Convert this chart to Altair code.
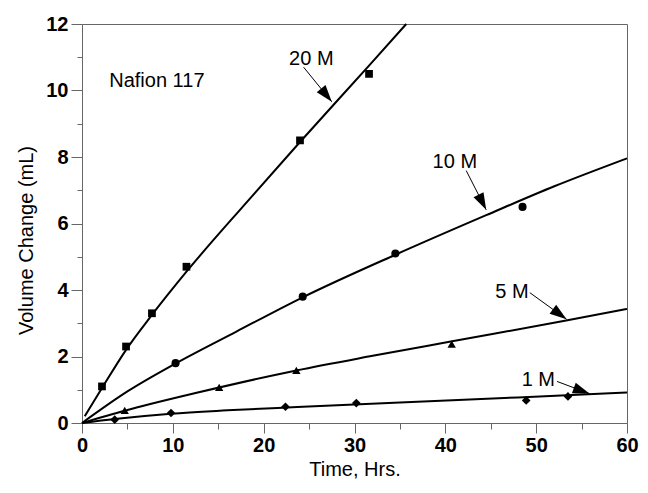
import altair as alt
import pandas as pd

FONT = "Liberation Sans"

# ---- series definitions ----
series = ["20 M", "10 M", "5 M", "1 M"]
shapes = ["square", "circle", "triangle-up", "diamond"]
sizes = [60, 75, 85, 90]

# ---- measured points (time in hours, volume change in mL) ----
t20 = [2.2, 4.85, 7.7, 11.5, 24.0, 31.6]
v20 = [1.1, 2.3, 3.3, 4.7, 8.5, 10.5]
t10 = [10.3, 24.3, 34.5, 48.5]
v10 = [1.8, 3.8, 5.1, 6.5]
t5 = [4.7, 15.1, 23.6, 40.7]
v5 = [0.38, 1.07, 1.58, 2.37]
t1 = [3.6, 9.8, 22.4, 30.2, 48.9, 53.5]
v1 = [0.1, 0.3, 0.49, 0.6, 0.68, 0.8]

# ---- fitted curves ----
ft20 = [0.3, 2.2, 4.85, 7.7, 11.5, 18.0, 24.0, 31.6, 35.7]
fv20 = [0.2, 1.05, 2.2, 3.25, 4.55, 6.6, 8.45, 10.75, 12.0]
ft10 = [0, 5, 10.3, 17, 24.3, 34.5, 44.5, 52, 60]
fv10 = [0, 0.95, 1.79, 2.75, 3.78, 5.06, 6.25, 7.12, 7.96]
ft5 = [0, 4.7, 12.5, 23.6, 32, 40.6, 53.3, 60]
fv5 = [0, 0.37, 0.9, 1.58, 2.02, 2.45, 3.08, 3.43]
ft1 = [0, 3.6, 9.8, 16, 23.7, 35, 48, 60]
fv1 = [0, 0.12, 0.28, 0.38, 0.48, 0.62, 0.77, 0.92]

# ---- tick values ----
x_major = [0, 10, 20, 30, 40, 50, 60]
x_minor = [5, 15, 25, 35, 45, 55]
y_major = [0, 2, 4, 6, 8, 10, 12]
y_minor = [1, 3, 5, 7, 9, 11]

# ---- annotations (data coordinates) ----
ann_text = ["20 M", "10 M", "5 M", "1 M"]
ann_tx = [22.8, 38.6, 45.5, 48.4]
ann_ty = [10.77, 7.66, 3.76, 1.12]
tail_t = [24.4, 42.3, 49.3, 52.3]
tail_v = [10.7, 7.59, 3.92, 1.25]
tip_t = [27.5, 44.5, 53.35, 55.9]
tip_v = [9.66, 6.41, 3.12, 0.88]
head_angle = [141, 153, 126, 110]

note_text = ["Nafion 117"]
note_t = [3.0]
note_v = [10.1]

# ---- tables ----
pts_rows = []
for s, ts, vs in zip(series, [t20, t10, t5, t1], [v20, v10, v5, v1]):
    for t, v in zip(ts, vs):
        pts_rows.append({"t": t, "v": v, "s": s})
pts_df = pd.DataFrame(pts_rows)

fit_rows = []
for s, ts, vs in zip(series, [ft20, ft10, ft5, ft1], [fv20, fv10, fv5, fv1]):
    for t, v in zip(ts, vs):
        fit_rows.append({"t": t, "v": v, "s": s})
fit_df = pd.DataFrame(fit_rows)

ann_df = pd.DataFrame({
    "text": ann_text, "tx": ann_tx, "ty": ann_ty,
    "t0": tail_t, "v0": tail_v, "t1": tip_t, "v1": tip_v, "ang": head_angle,
})
note_df = pd.DataFrame({"text": note_text, "t": note_t, "v": note_v})
minor_df = pd.DataFrame({"t": x_minor, "v": y_minor})

xs = alt.Scale(domain=[0, 60], nice=False, zero=False)
ys = alt.Scale(domain=[0, 12], nice=False, zero=False)

AX = "#666666"

x_main_axis = alt.Axis(
    values=x_major, orient="bottom", grid=False,
    domainColor=AX, tickColor=AX, tickSize=10, tickWidth=1,
    labelFont=FONT, labelFontSize=20, labelFontWeight="bold", labelColor="black",
    labelPadding=2, labelFlush=False, labelOverlap=False,
    title="Time, Hrs.", titleFont=FONT, titleFontSize=20, titleFontWeight="normal",
    titleColor="black", titleY=52, titleBaseline="alphabetic",
)
y_main_axis = alt.Axis(
    values=y_major, orient="left", grid=False,
    domainColor=AX, tickColor=AX, tickSize=11, tickWidth=1,
    labelFont=FONT, labelFontSize=20, labelFontWeight="bold", labelColor="black",
    labelPadding=3, labelFlush=False, labelOverlap=False,
    title="Volume Change (mL)", titleFont=FONT, titleFontSize=20, titleFontWeight="normal",
    titleColor="black", titleAngle=270, titleX=-50, titleY=216, titleBaseline="alphabetic",
)
x_minor_axis = alt.Axis(values=x_minor, orient="bottom", grid=False, domain=False,
                        labels=False, title=None, tickColor=AX, tickSize=6, tickWidth=1)
y_minor_axis = alt.Axis(values=y_minor, orient="left", grid=False, domain=False,
                        labels=False, title=None, tickColor=AX, tickSize=5, tickWidth=1)

minor = alt.Chart(minor_df).mark_point(opacity=0).encode(
    x=alt.X("t:Q", scale=xs, axis=x_minor_axis),
    y=alt.Y("v:Q", scale=ys, axis=y_minor_axis),
)

curves = alt.Chart(fit_df).mark_line(color="black", strokeWidth=2, interpolate="monotone").encode(
    x=alt.X("t:Q", scale=xs, axis=None),
    y=alt.Y("v:Q", scale=ys, axis=None),
    detail="s:N",
)

points = alt.Chart(pts_df).mark_point(filled=True, color="black", opacity=1).encode(
    x=alt.X("t:Q", scale=xs, axis=x_main_axis),
    y=alt.Y("v:Q", scale=ys, axis=y_main_axis),
    shape=alt.Shape("s:N", scale=alt.Scale(domain=series, range=shapes), legend=None),
    size=alt.Size("s:O", scale=alt.Scale(domain=series, range=sizes), legend=None),
)

shafts = alt.Chart(ann_df).mark_rule(color="black", strokeWidth=1).encode(
    x=alt.X("t0:Q", scale=xs, axis=None),
    x2="t1:Q",
    y=alt.Y("v0:Q", scale=ys, axis=None),
    y2="v1:Q",
)

heads = alt.Chart(ann_df).mark_point(
    shape="M0,0L0.33,1L-0.33,1Z", filled=True, color="black", size=1150, opacity=1
).encode(
    x=alt.X("t1:Q", scale=xs, axis=None),
    y=alt.Y("v1:Q", scale=ys, axis=None),
    angle=alt.Angle("ang:Q", scale=None),
)

labels = alt.Chart(ann_df).mark_text(
    align="left", baseline="alphabetic", font=FONT, fontSize=20, color="black"
).encode(
    x=alt.X("tx:Q", scale=xs, axis=None),
    y=alt.Y("ty:Q", scale=ys, axis=None),
    text="text:N",
)

note = alt.Chart(note_df).mark_text(
    align="left", baseline="alphabetic", font=FONT, fontSize=20, color="black"
).encode(
    x=alt.X("t:Q", scale=xs, axis=None),
    y=alt.Y("v:Q", scale=ys, axis=None),
    text="text:N",
)

chart = (
    alt.layer(minor, curves, points, shafts, heads, labels, note)
    .resolve_axis(x="independent", y="independent")
    .properties(
        width=545, height=399,
        autosize=alt.AutoSizeParams(type="none"),
        padding={"left": 74, "top": 16, "right": 13, "bottom": 56},
        background="white",
    )
    .configure_view(stroke=AX, strokeWidth=1)
)

chart.save("out.html", embed_options={"renderer": "svg", "actions": False})
